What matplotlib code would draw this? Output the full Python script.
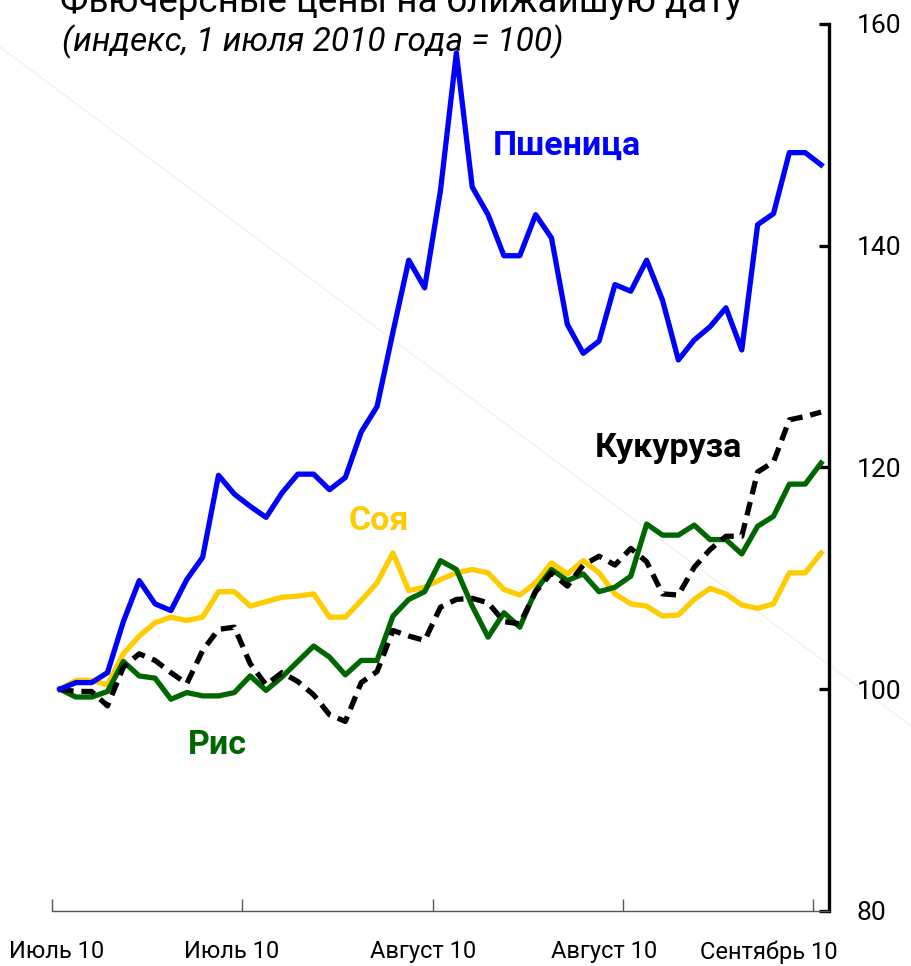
import matplotlib
matplotlib.use('Agg')
import matplotlib.pyplot as plt
from matplotlib.lines import Line2D
import numpy as np

# ---- data (index, 1 July 2010 = 100), daily observations ----
wheat = [100.0, 100.6, 100.6, 101.5, 106.1, 109.8, 107.7, 107.1, 109.9, 111.9,
         119.3, 117.6, 116.5, 115.5, 117.7, 119.4, 119.4, 118.0, 119.1, 123.2,
         125.5, 132.2, 138.7, 136.2, 145.0, 157.4, 145.3, 142.8, 139.1, 139.1,
         142.8, 140.7, 132.9, 130.3, 131.4, 136.5, 135.9, 138.7, 135.1, 129.7,
         131.5, 132.7, 134.4, 130.6, 141.9, 142.9, 148.4, 148.4, 147.3]
soy = [100.0, 100.8, 100.8, 100.4, 103.2, 104.8, 106.0, 106.5, 106.2, 106.5,
       108.8, 108.8, 107.5, 107.9, 108.3, 108.4, 108.6, 106.5, 106.5, 108.0,
       109.6, 112.3, 108.9, 109.2, 109.9, 110.5, 110.8, 110.5, 109.0, 108.5,
       109.6, 111.4, 110.4, 111.6, 110.5, 108.6, 107.7, 107.5, 106.6, 106.7,
       108.1, 109.1, 108.6, 107.6, 107.3, 107.7, 110.5, 110.5, 112.3]
rice = [100.0, 99.3, 99.3, 99.8, 102.5, 101.2, 101.0, 99.1, 99.7, 99.4,
        99.4, 99.7, 101.2, 99.9, 101.1, 102.5, 103.9, 102.9, 101.3, 102.6,
        102.6, 106.6, 108.1, 108.8, 111.6, 110.8, 107.5, 104.7, 106.9, 105.6,
        108.9, 110.8, 109.8, 110.4, 108.8, 109.2, 110.2, 114.9, 113.9, 113.9,
        114.8, 113.5, 113.5, 112.2, 114.7, 115.6, 118.5, 118.5, 120.4]
corn = [100.0, 99.8, 99.8, 98.5, 102.0, 103.2, 102.6, 101.5, 100.5, 103.5,
        105.4, 105.6, 102.3, 100.4, 101.5, 100.7, 99.5, 97.7, 97.1, 100.6,
        101.6, 105.3, 104.8, 104.4, 107.4, 108.1, 108.2, 107.8, 106.1, 105.9,
        108.8, 110.5, 109.3, 111.2, 112.0, 111.2, 112.7, 111.5, 108.6, 108.5,
        111.0, 112.6, 113.8, 113.8, 119.6, 120.5, 124.3, 124.6, 125.0]

series_names = ['Пшеница', 'Кукуруза', 'Соя', 'Рис']
x_tick_labels = ['Июль 10', 'Июль 10', 'Август 10', 'Август 10', 'Сентябрь 10']
x_label_pos = [-0.2, 10.8, 22.9, 34.3, 44.7]
x_boundaries = [-0.5, 11.5, 23.5, 35.5, 47.5]
y_ticks = [80, 100, 120, 140, 160]

title = 'Фьючерсные цены на ближайшую дату'
subtitle = '(индекс, 1 июля 2010 года = 100)'

plt.rcParams['font.family'] = ['Roboto', 'DejaVu Sans']

W, H = 911, 966
fig = plt.figure(figsize=(W / 100, H / 100), dpi=100)
fig.patch.set_facecolor('white')

# faint diagonal background artefact
fig.add_artist(Line2D([0, 1], [1 - 47 / H, 1 - 726 / H], color='#efefef',
                      lw=0.8, transform=fig.transFigure, zorder=0))

ax = fig.add_axes([52 / W, 55 / H, (829 - 52) / W, (911 - 24) / H])
ax.patch.set_alpha(0)

x = np.arange(len(wheat))
lw = 3.8
ax.plot(x, soy, color='#FFCC00', lw=lw, solid_joinstyle='round', zorder=3)
ax.plot(x, rice, color='#006600', lw=lw, solid_joinstyle='round', zorder=4)
ax.plot(x, corn, color='black', lw=lw, dashes=(2.6, 1.5), zorder=5)
ax.plot(x, wheat, color='#0000FF', lw=lw, solid_joinstyle='round', zorder=6)

ax.set_xlim(-0.5, len(wheat) - 0.5)
ax.set_ylim(80, 160)

for s in ['top', 'left']:
    ax.spines[s].set_visible(False)
ax.spines['bottom'].set_linewidth(1.0)
ax.spines['bottom'].set_color('#555555')
ax.spines['right'].set_linewidth(2.4)
ax.spines['right'].set_color('black')

ax.set_xticks(x_boundaries)
ax.set_xticklabels([''] * len(x_boundaries))
ax.tick_params(axis='x', which='major', direction='in', length=9, width=1.0,
               color='#555555')
ax.set_xticks(x_label_pos, minor=True)
ax.set_xticklabels(x_tick_labels, minor=True)
ax.tick_params(axis='x', which='minor', length=0, pad=21, labelsize=17)

ax.yaxis.tick_right()
ax.set_yticks(y_ticks)
ax.tick_params(axis='y', direction='in', length=7, width=2.4, labelsize=19, pad=20)

label_kw = dict(fontsize=24.5, fontweight='bold', ha='center', va='center')
ax.text(32.0, 149.0, series_names[0], color='#0000FF', **label_kw)
ax.text(38.4, 121.8, series_names[1], color='black', **label_kw)
ax.text(20.1, 115.2, series_names[2], color='#FFCC00', **label_kw)
ax.text(9.9, 95.0, series_names[3], color='#006600', **label_kw)

fig.text(60 / W, 1 - 12 / H, title, fontsize=26.5, ha='left', va='baseline')
fig.text(62 / W, 1 - 42 / H, subtitle, fontsize=24, style='italic',
         ha='left', va='center')

fig.savefig('out.png', dpi=100)
